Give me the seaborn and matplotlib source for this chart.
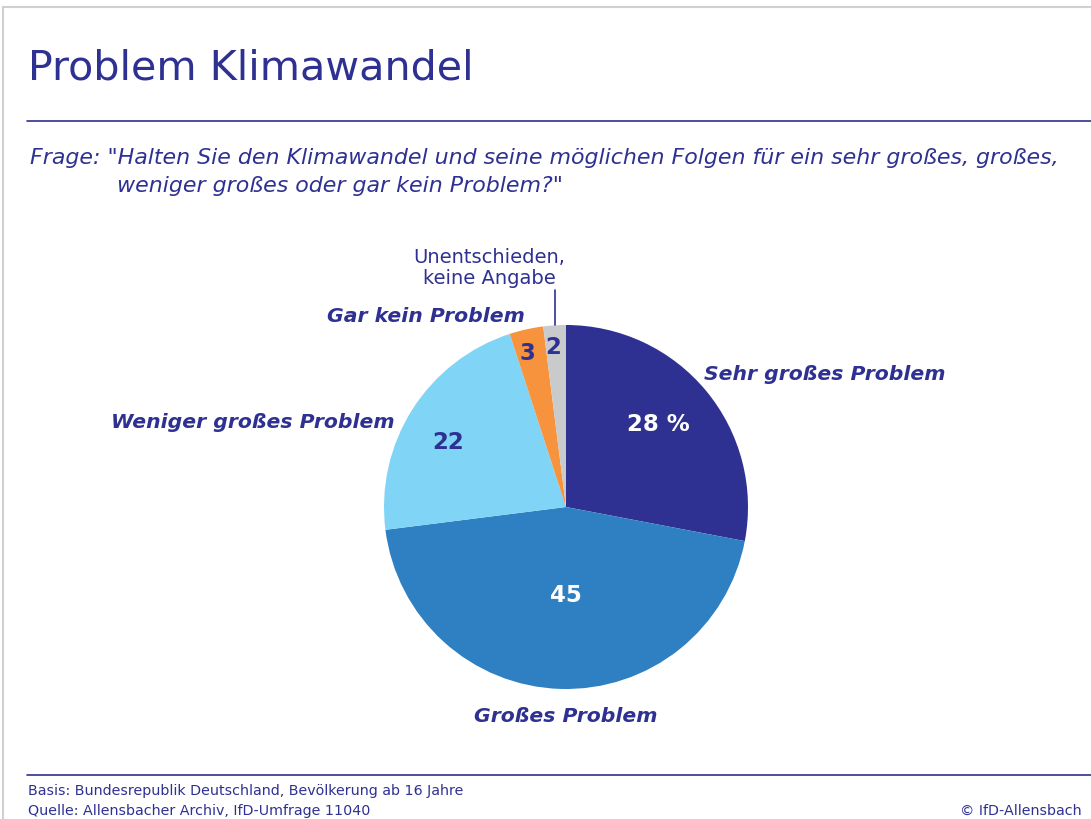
import matplotlib
matplotlib.use("Agg")
import matplotlib.pyplot as plt
import seaborn as sns
from matplotlib.patches import Rectangle
from matplotlib.lines import Line2D

# Data
categories = ["Sehr großes Problem", "Großes Problem", "Weniger großes Problem",
              "Gar kein Problem", "Unentschieden,\nkeine Angabe"]
values = [28, 45, 22, 3, 2]
value_labels = ["28 %", "45", "22", "3", "2"]
colors = ["#2E3192", "#2E80C2", "#80D4F6", "#F7923D", "#C9CACC"]
navy = "#2E3192"

sns.set_theme(style="white")
plt.rcParams['font.family'] = ['DejaVu Sans']

W, H = 1091, 820
fig = plt.figure(figsize=(W / 100, H / 100), dpi=100)

def fx(px):
    return px / W

def fy(py):
    return 1 - py / H

# frame and rules
fig.patches.append(Rectangle((fx(3), fy(900)), fx(1200), fy(8) - fy(900), transform=fig.transFigure,
                             fill=False, edgecolor="#D0D0D0", linewidth=1.5))
fig.add_artist(Line2D([fx(27), 1], [fy(122), fy(122)], color=navy, linewidth=1.2))
fig.add_artist(Line2D([fx(27), 1], [fy(776), fy(776)], color=navy, linewidth=1.2))

# title and question
fig.text(fx(28), fy(68), "Problem Klimawandel", color=navy, fontsize=29.7, va="center", ha="left")
fig.text(fx(30), fy(158), 'Frage: "Halten Sie den Klimawandel und seine möglichen Folgen für ein sehr großes, großes,',
         color=navy, fontsize=15.9, style="italic", va="center", ha="left")
fig.text(fx(117), fy(186), 'weniger großes oder gar kein Problem?"',
         color=navy, fontsize=15.9, style="italic", va="center", ha="left")

# pie
cx, cy, r = 566, 508, 182
ax = fig.add_axes([fx(cx - r), fy(cy + r), fx(2 * r), fy(cy - r) - fy(cy + r)])
ax.pie(values, colors=colors, startangle=90, counterclock=False, radius=1,
       wedgeprops=dict(linewidth=0))
ax.set_xlim(-1, 1)
ax.set_ylim(-1, 1)
ax.set_aspect("equal")
ax.axis("off")

# value labels inside slices
val_pos = [(0.51, 0.46), (0.0, -0.48), (-0.65, 0.36), (-0.21, 0.85), (-0.07, 0.88)]
val_colors = ["white", "white", navy, navy, navy]
for (x, y), t, c in zip(val_pos, value_labels, val_colors):
    ax.text(x, y, t, color=c, fontsize=16.5, fontweight="bold", ha="center", va="center")

# category labels
cat_pos = [(0.76, 0.736, "left"), (0.0, -1.148, "center"), (-0.94, 0.47, "right"),
           (-0.225, 1.05, "right")]
for (x, y, ha), t in zip(cat_pos, categories[:4]):
    ax.text(x, y, t, color=navy, fontsize=14.7, fontweight="bold", style="italic",
            ha=ha, va="center", clip_on=False)
ax.text(-0.42, 1.32, categories[4], color=navy, fontsize=14, ha="center", va="center",
        linespacing=1.1, clip_on=False)
ax.plot([-0.06, -0.06], [1.0, 1.19], color=navy, linewidth=1.2, clip_on=False)

# footer
fig.text(fx(28), fy(791), "Basis: Bundesrepublik Deutschland, Bevölkerung ab 16 Jahre",
         color=navy, fontsize=10.3, va="center", ha="left")
fig.text(fx(28), fy(811), "Quelle: Allensbacher Archiv, IfD-Umfrage 11040",
         color=navy, fontsize=10.3, va="center", ha="left")
fig.text(fx(1082), fy(811), "© IfD-Allensbach", color=navy, fontsize=10.3, va="center", ha="right")

fig.savefig("out.png", dpi=100)
